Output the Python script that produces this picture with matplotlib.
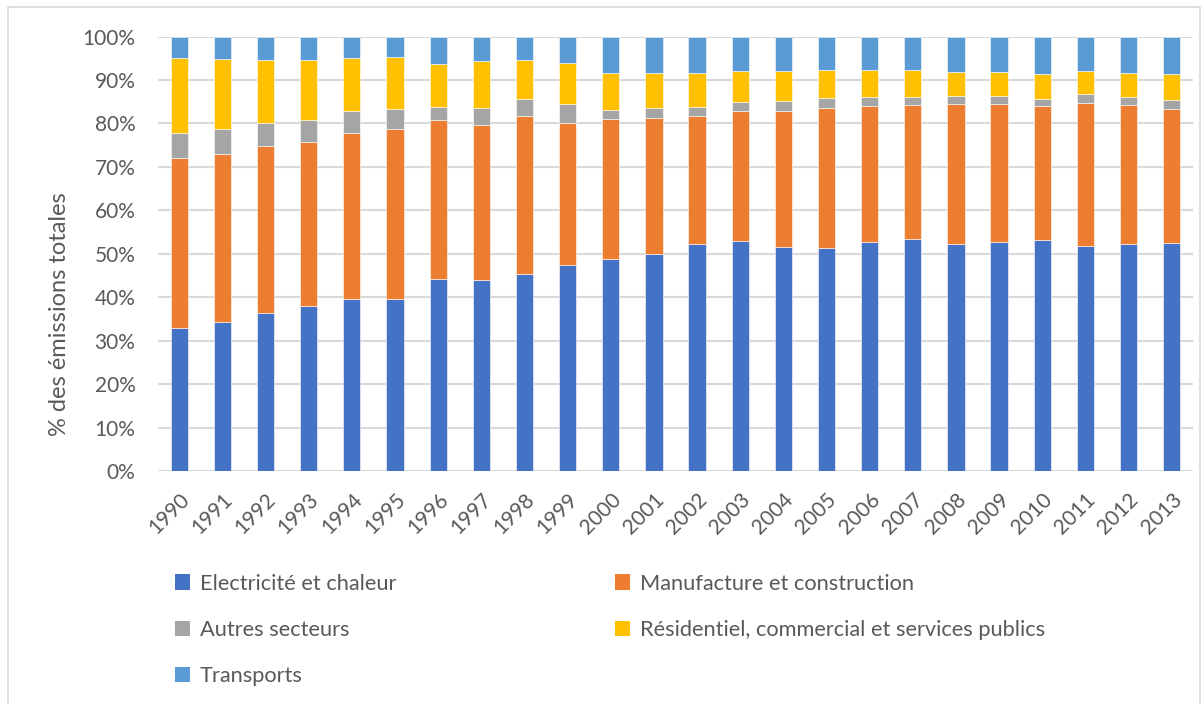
import matplotlib
matplotlib.use("Agg")
import matplotlib.pyplot as plt
import numpy as np
from matplotlib.patches import Rectangle, Patch
from matplotlib.ticker import PercentFormatter

years = [str(y) for y in range(1990, 2014)]
electricite = [33.0, 34.4, 36.3, 37.9, 39.6, 39.5, 44.2, 43.9, 45.4, 47.5, 48.9, 50.0,
               52.2, 53.0, 51.6, 51.3, 52.6, 53.3, 52.2, 52.6, 53.1, 51.8, 52.3, 52.8]
manufacture = [39.1, 38.6, 38.6, 37.9, 38.2, 39.2, 36.7, 35.5, 36.3, 32.6, 32.2, 31.3,
               29.6, 29.8, 31.3, 32.3, 31.5, 31.0, 32.3, 32.0, 31.0, 33.0, 31.9, 31.2]
autres = [5.8, 5.7, 5.3, 5.0, 5.1, 4.6, 3.0, 3.9, 4.0, 4.4, 2.1, 2.2,
          2.1, 2.1, 2.3, 2.2, 2.0, 1.9, 1.8, 1.8, 1.6, 2.0, 2.0, 2.1]
residentiel = [17.1, 16.2, 14.4, 13.7, 12.2, 11.9, 9.7, 10.9, 9.0, 9.5, 8.5, 8.2,
               7.8, 7.1, 6.9, 6.5, 6.2, 6.0, 5.6, 5.5, 5.6, 5.2, 5.5, 6.1]
transports = [5.0, 5.1, 5.4, 5.5, 4.9, 4.8, 6.4, 5.6, 5.3, 6.0, 8.3, 8.3,
              8.3, 8.0, 7.9, 7.7, 7.7, 7.8, 8.1, 8.1, 8.7, 8.0, 8.3, 8.6]

series = [
    ("Electricité et chaleur", electricite, "#4472C4"),
    ("Manufacture et construction", manufacture, "#ED7D31"),
    ("Autres secteurs", autres, "#A5A5A5"),
    ("Résidentiel, commercial et services publics", residentiel, "#FFC000"),
    ("Transports", transports, "#5B9BD5"),
]

plt.rcParams['font.family'] = ['Lato', 'DejaVu Sans']
TXT = '#595959'

fig = plt.figure(figsize=(12.04, 7.04), dpi=100)
ax = fig.add_axes([0.131, 0.331, 0.860, 0.617])

data = np.array([s[1] for s in series], dtype=float)
totals = data.sum(axis=0)
pct = data / totals * 100
x = np.arange(len(years))
bottom = np.zeros(len(years))
handles = {}
for (name, _, color), vals in zip(series, pct):
    ax.bar(x, vals, width=0.4, bottom=bottom, color=color, edgecolor='white',
           linewidth=0.4, zorder=3, label=name)
    handles[name] = Patch(facecolor=color, edgecolor='none')
    bottom += vals

ax.set_xlim(-0.5, len(years) - 0.5)
ax.set_ylim(0, 100)
ax.set_yticks(np.arange(0, 101, 10))
ax.yaxis.set_major_formatter(PercentFormatter(decimals=0))
ax.grid(axis='y', color='#D9D9D9', linewidth=1.5, zorder=0)
for sp in ax.spines.values():
    sp.set_visible(False)
ax.tick_params(axis='both', length=0, colors=TXT, labelsize=15)
ax.tick_params(axis='y', pad=16)
ax.set_xticks(x)
ax.set_xticklabels(years, rotation=45, ha='right', rotation_mode='anchor')
ax.tick_params(axis='x', pad=13)
ax.set_ylabel("% des émissions totales", color=TXT, fontsize=17)
ax.yaxis.set_label_coords(-0.085, 0.36)

order = ["Electricité et chaleur", "Autres secteurs", "Transports",
         "Manufacture et construction", "Résidentiel, commercial et services publics"]
fig.legend([handles[n] for n in order], order, ncol=2, frameon=False,
           loc='upper left', bbox_to_anchor=(0.145, 0.185),
           fontsize=15.7, labelcolor=TXT, handlelength=0.72, handleheight=0.72,
           handletextpad=0.45, columnspacing=10.0, labelspacing=1.2,
           borderpad=0, borderaxespad=0)

fig.patches.append(Rectangle((0.007, -0.01), 0.99, 1.0, transform=fig.transFigure,
                             fill=False, edgecolor='#D9D9D9', linewidth=1.2))

fig.savefig("out.png", dpi=100)
